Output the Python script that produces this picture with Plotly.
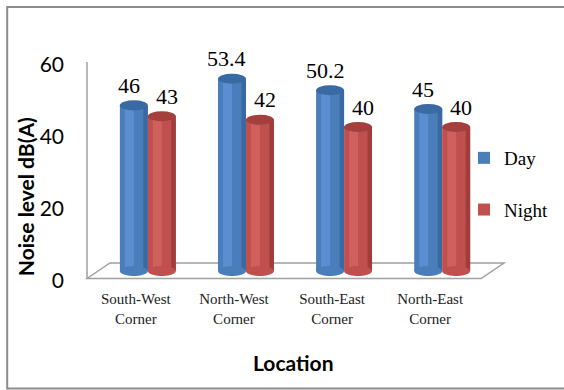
import plotly.graph_objects as go

categories = ["South-West<br>Corner", "North-West<br>Corner", "South-East<br>Corner", "North-East<br>Corner"]
day_values = [46, 53.4, 50.2, 45]
night_values = [43, 42, 40, 40]
y_ticks = [0, 20, 40, 60]
series_names = ["Day", "Night"]

W, H = 564, 390
PL, PR, PT, PB = 87, 505, 55, 276  # plot area pixels
YMIN, YMAX = -5 / 3.6, 60
XMIN, XMAX = -0.62, 3.63
BW = 0.285  # bar width in category units


def px(x):
    return (x - PL) / (PR - PL)


def py(y):
    return (PB - y) / (PB - PT)


fig = go.Figure()

styles = [
    dict(base="#4a7ebb", light="#5a8ed0", dark="#3a68a1", cap="#3a6aa3", offset=-BW),
    dict(base="#c0504d", light="#cf605d", dark="#9e3d3b", cap="#a33f3c", offset=0.0),
]
xs = list(range(len(categories)))

for name, vals, st in zip(series_names, [day_values, night_values], styles):
    fig.add_trace(go.Bar(
        name=name, x=xs, y=vals, width=BW, offset=st["offset"],
        marker=dict(color=st["base"], line=dict(width=0)),
        legendgroup=name, showlegend=True,
    ))
    # highlight stripe (cylinder shading)
    fig.add_trace(go.Bar(
        x=xs, y=vals, width=BW * 0.32, offset=st["offset"] + BW * 0.18,
        marker=dict(color=st["light"], line=dict(width=0)),
        showlegend=False, hoverinfo="skip",
    ))
    # dark edge stripe
    fig.add_trace(go.Bar(
        x=xs, y=vals, width=BW * 0.16, offset=st["offset"] + BW * 0.84,
        marker=dict(color=st["dark"], line=dict(width=0)),
        showlegend=False, hoverinfo="skip",
    ))

shapes = []
# outer border
shapes.append(dict(type="rect", xref="paper", yref="paper",
                   x0=px(7), x1=px(600), y0=py(388.5), y1=py(7),
                   line=dict(color="#8c8c8c", width=2), fillcolor="rgba(0,0,0,0)", layer="below"))
# left wall edge
shapes.append(dict(type="line", xref="paper", yref="paper",
                   x0=px(87), x1=px(87), y0=py(62), y1=py(278.5),
                   line=dict(color="#a0a0a0", width=1.5), layer="below"))
# floor
shapes.append(dict(type="path", xref="paper", yref="paper",
                   path=f"M{px(87)},{py(278.5)} L{px(110)},{py(263)} L{px(505)},{py(263)} L{px(482)},{py(278.5)} Z",
                   line=dict(color="#a0a0a0", width=1.5), fillcolor="rgba(0,0,0,0)", layer="below"))

cap_h = 1.4
for vals, st in zip([day_values, night_values], styles):
    for i, v in enumerate(vals):
        x0 = i + st["offset"]
        x1 = x0 + BW
        # bottom rounding
        shapes.append(dict(type="circle", xref="x", yref="y", x0=x0, x1=x1, y0=-cap_h, y1=cap_h,
                           fillcolor=st["base"], line=dict(width=0), layer="above"))
        # top cap
        shapes.append(dict(type="circle", xref="x", yref="y", x0=x0, x1=x1, y0=v - cap_h, y1=v + cap_h,
                           fillcolor=st["cap"], line=dict(width=0), layer="above"))

annotations = []
for vals, st, shift in zip([day_values, night_values], styles, [-5, 5]):
    for i, v in enumerate(vals):
        annotations.append(dict(
            x=i + st["offset"] + BW / 2, y=v, xref="x", yref="y",
            text=f"{v:g}", showarrow=False, yanchor="middle", yshift=20, xshift=shift,
            font=dict(family="Liberation Serif, Times New Roman, serif", size=22, color="#000000"),
        ))

annotations.append(dict(x=px(25), y=py(197), xref="paper", yref="paper", text="<b>Noise level dB(A)</b>",
                        textangle=-90, showarrow=False, xanchor="center", yanchor="middle",
                        font=dict(family="Lato", size=21, color="#000000")))
annotations.append(dict(x=px(293), y=py(362), xref="paper", yref="paper", text="<b>Location</b>",
                        showarrow=False, xanchor="center", yanchor="middle",
                        font=dict(family="Lato", size=21, color="#000000")))

fig.update_layout(
    width=W, height=H,
    margin=dict(l=PL, r=W - PR, t=PT, b=H - PB, pad=0),
    paper_bgcolor="white", plot_bgcolor="rgba(0,0,0,0)",
    barmode="overlay",
    shapes=shapes,
    annotations=annotations,
    legend=dict(x=px(464), y=py(139), xanchor="left", yanchor="top",
                font=dict(family="Liberation Serif, Times New Roman, serif", size=19, color="#000000"),
                tracegroupgap=24, bgcolor="rgba(0,0,0,0)", borderwidth=0),
    xaxis=dict(range=[XMIN, XMAX], tickmode="array", tickvals=xs, ticktext=categories,
               showgrid=False, zeroline=False, showline=False, ticks="",
               ticklabelshift=-12, ticklabelstandoff=12,
               tickfont=dict(family="Liberation Serif, Times New Roman, serif", size=15, color="#222222")),
    yaxis=dict(range=[YMIN, YMAX], tickmode="array", tickvals=y_ticks,
               showgrid=False, zeroline=False, showline=False, ticks="",
               ticklabelshift=10, ticklabelstandoff=22,
               tickfont=dict(family="Lato", size=21, color="#000000")),
)

fig.write_html("out.html")
